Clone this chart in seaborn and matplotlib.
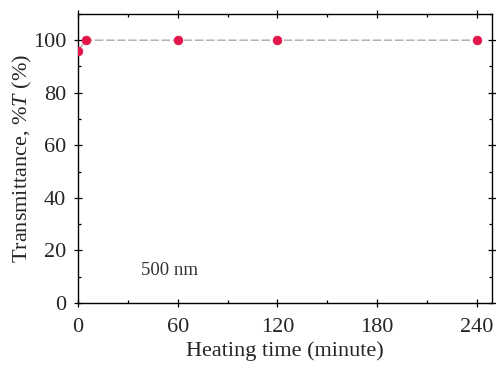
import matplotlib
matplotlib.use("Agg")
import matplotlib.pyplot as plt
import seaborn as sns
import pandas as pd
from matplotlib.ticker import MultipleLocator

heating_time = [0, 5, 60, 120, 240]
transmittance = [96.0, 100, 100, 100, 100]
x_ticks = [0, 60, 120, 180, 240]
y_ticks = [0, 20, 40, 60, 80, 100]

df = pd.DataFrame({"time": heating_time, "T": transmittance})

sns.set_style("ticks")
plt.rcParams['font.family'] = ['Liberation Serif', 'DejaVu Serif']
plt.rcParams['mathtext.fontset'] = 'custom'
plt.rcParams['mathtext.it'] = 'Liberation Serif:italic'
plt.rcParams['mathtext.rm'] = 'Liberation Serif'

fig = plt.figure(figsize=(4.96, 3.66), dpi=100)
ax = fig.add_axes([0.157, 0.172, 0.835, 0.79])

sns.lineplot(data=df, x="time", y="T", ax=ax, color="#b5a6a9", lw=1.0,
             linestyle=(0, (6, 2)), zorder=2)
sns.scatterplot(data=df, x="time", y="T", ax=ax, color="#e3164a", s=40,
                edgecolor="#e3164a", zorder=3)

ax.set_xlim(0, 249)
ax.set_ylim(0, 110)
ax.set_xticks(x_ticks)
ax.set_yticks(y_ticks)
ax.xaxis.set_minor_locator(MultipleLocator(30))
ax.yaxis.set_minor_locator(MultipleLocator(10))
ax.tick_params(which='both', direction='in', top=True, right=True,
               labelsize=16, width=0.9, color='black')
ax.tick_params(which='major', length=4)
ax.tick_params(which='minor', length=2.5)
ax.tick_params(axis='both', which='major', direction='inout', length=6)
ax.tick_params(axis='x', which='major', pad=8)
ax.tick_params(axis='y', which='major', pad=5.5)
for s in ax.spines.values():
    s.set_linewidth(1.0)
    s.set_color('black')

ax.set_xlabel("Heating time (minute)", fontsize=16, labelpad=3)
ax.set_ylabel(r"Transmittance, %$T$ (%)", fontsize=16, labelpad=-1)
ax.text(55, 12.5, "500 nm", fontsize=13.5, ha='center', va='center', color='#333333')

fig.savefig("out.png", dpi=100)
